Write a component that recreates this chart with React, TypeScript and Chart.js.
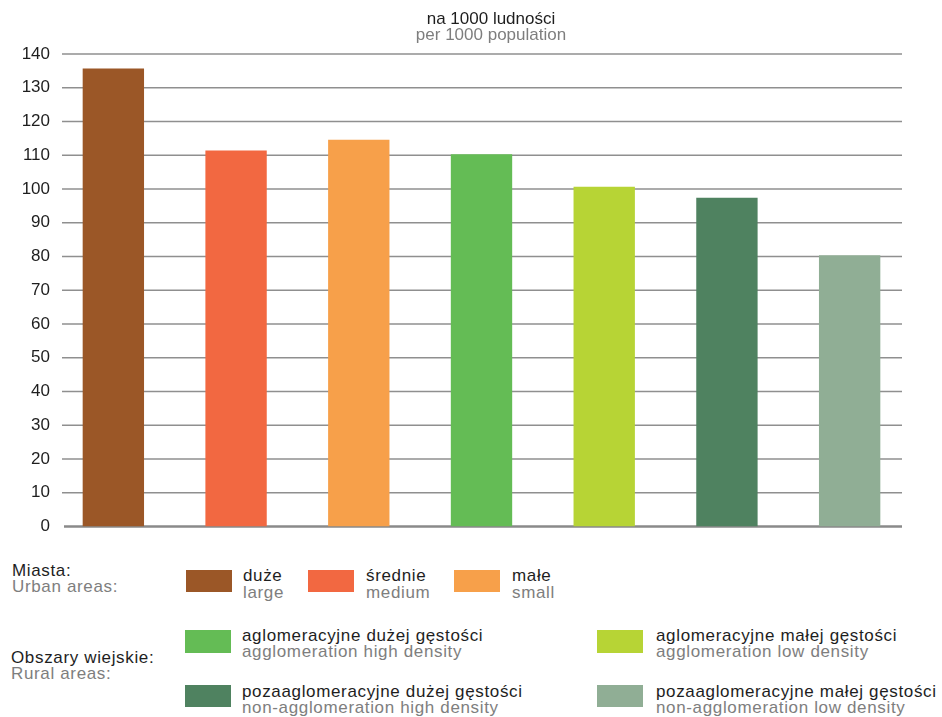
import React, { useEffect, useRef } from "react";
import { Chart, registerables } from "chart.js";

Chart.register(...registerables);

const categories = ["duże", "średnie", "małe", "aglomeracyjne dużej gęstości", "aglomeracyjne małej gęstości", "pozaaglomeracyjne dużej gęstości", "pozaaglomeracyjne małej gęstości"];
const values = [135.7, 111.4, 114.6, 110.3, 100.7, 97.4, 80.4];
const colors = ["#9B5727", "#F26841", "#F7A04A", "#64BC55", "#B7D435", "#4F8260", "#90AE95"];
const yTicks = [0, 10, 20, 30, 40, 50, 60, 70, 80, 90, 100, 110, 120, 130, 140];

const FONT = "'Liberation Sans', Arial, sans-serif";
const DARK = "#1e1e1e";
const GRAY = "#7e7e7e";

const gridPlugin = {
  id: "customGrid",
  beforeDatasetsDraw(chart: any) {
    const { ctx } = chart;
    const y = chart.scales.y;
    ctx.save();
    yTicks.forEach((t) => {
      const py = y.getPixelForValue(t);
      ctx.beginPath();
      ctx.strokeStyle = t === 0 ? "#8a8a8a" : "#8f8f8f";
      ctx.lineWidth = t === 0 ? 2.5 : 1.5;
      ctx.moveTo(t === 0 ? 64 : 62, py);
      ctx.lineTo(902, py);
      ctx.stroke();
    });
    ctx.restore();
  },
};

export default function App() {
  const ref = useRef<HTMLCanvasElement>(null);
  useEffect(() => {
    document.body.style.margin = "0";
    const chart = new Chart(ref.current!, {
      type: "bar",
      data: {
        labels: categories,
        datasets: [{ data: values, backgroundColor: colors, categoryPercentage: 1, barPercentage: 0.5 }],
      },
      options: {
        animation: false,
        responsive: false,
        layout: { padding: { top: 54, bottom: 13.5, left: 0, right: 31 } },
        plugins: { legend: { display: false }, tooltip: { enabled: false }, title: { display: false } },
        scales: {
          x: { display: false, offset: true },
          y: {
            min: 0,
            max: 140,
            afterFit: (s: any) => { s.width = 52; },
            afterBuildTicks: (s: any) => { s.ticks = yTicks.map((v) => ({ value: v })); },
            grid: { display: false },
            border: { display: false },
            ticks: { color: DARK, font: { family: FONT, size: 17 }, padding: -6 },
          },
        },
      },
      plugins: [gridPlugin],
    });
    return () => chart.destroy();
  }, []);

  const txt = (top: number, left: number, s: string, color: string) => (
    <div style={{ position: "absolute", top, left, fontFamily: FONT, fontSize: 17, lineHeight: "17px", letterSpacing: "0.65px", color, whiteSpace: "nowrap" }}>{s}</div>
  );
  const sw = (top: number, left: number, w: number, h: number, c: string) => (
    <div style={{ position: "absolute", top, left, width: w, height: h, background: c }} />
  );

  return (
    <div style={{ position: "relative", width: 942, height: 717, background: "#fff", overflow: "hidden" }}>
      <canvas ref={ref} width={942} height={540} style={{ position: "absolute", left: 0, top: 0 }} />
      <div style={{ position: "absolute", top: 10, left: 0, width: 982, textAlign: "center", fontFamily: FONT, fontSize: 17, lineHeight: "17px", color: DARK }}>na 1000 ludności</div>
      <div style={{ position: "absolute", top: 26, left: 0, width: 982, textAlign: "center", fontFamily: FONT, fontSize: 17, lineHeight: "17px", color: GRAY }}>per 1000 population</div>

      {txt(562, 12, "Miasta:", DARK)}
      {txt(578, 12, "Urban areas:", GRAY)}
      {sw(570, 186, 46, 22, colors[0])}
      {txt(567, 243, "duże", DARK)}
      {txt(584, 243, "large", GRAY)}
      {sw(570, 308, 46, 22, colors[1])}
      {txt(567, 366, "średnie", DARK)}
      {txt(584, 366, "medium", GRAY)}
      {sw(570, 454, 46, 22, colors[2])}
      {txt(567, 512, "małe", DARK)}
      {txt(584, 512, "small", GRAY)}

      {txt(649, 11, "Obszary wiejskie:", DARK)}
      {txt(665, 11, "Rural areas:", GRAY)}
      {sw(630, 185, 46, 23, colors[3])}
      {txt(627, 242, "aglomeracyjne dużej gęstości", DARK)}
      {txt(643, 242, "agglomeration high density", GRAY)}
      {sw(630, 597, 46, 23, colors[4])}
      {txt(627, 656, "aglomeracyjne małej gęstości", DARK)}
      {txt(643, 656, "agglomeration low density", GRAY)}
      {sw(685, 185, 46, 22, colors[5])}
      {txt(683, 242, "pozaaglomeracyjne dużej gęstości", DARK)}
      {txt(699, 242, "non-agglomeration high density", GRAY)}
      {sw(685, 597, 46, 22, colors[6])}
      {txt(683, 656, "pozaaglomeracyjne małej gęstości", DARK)}
      {txt(699, 656, "non-agglomeration low density", GRAY)}
    </div>
  );
}
